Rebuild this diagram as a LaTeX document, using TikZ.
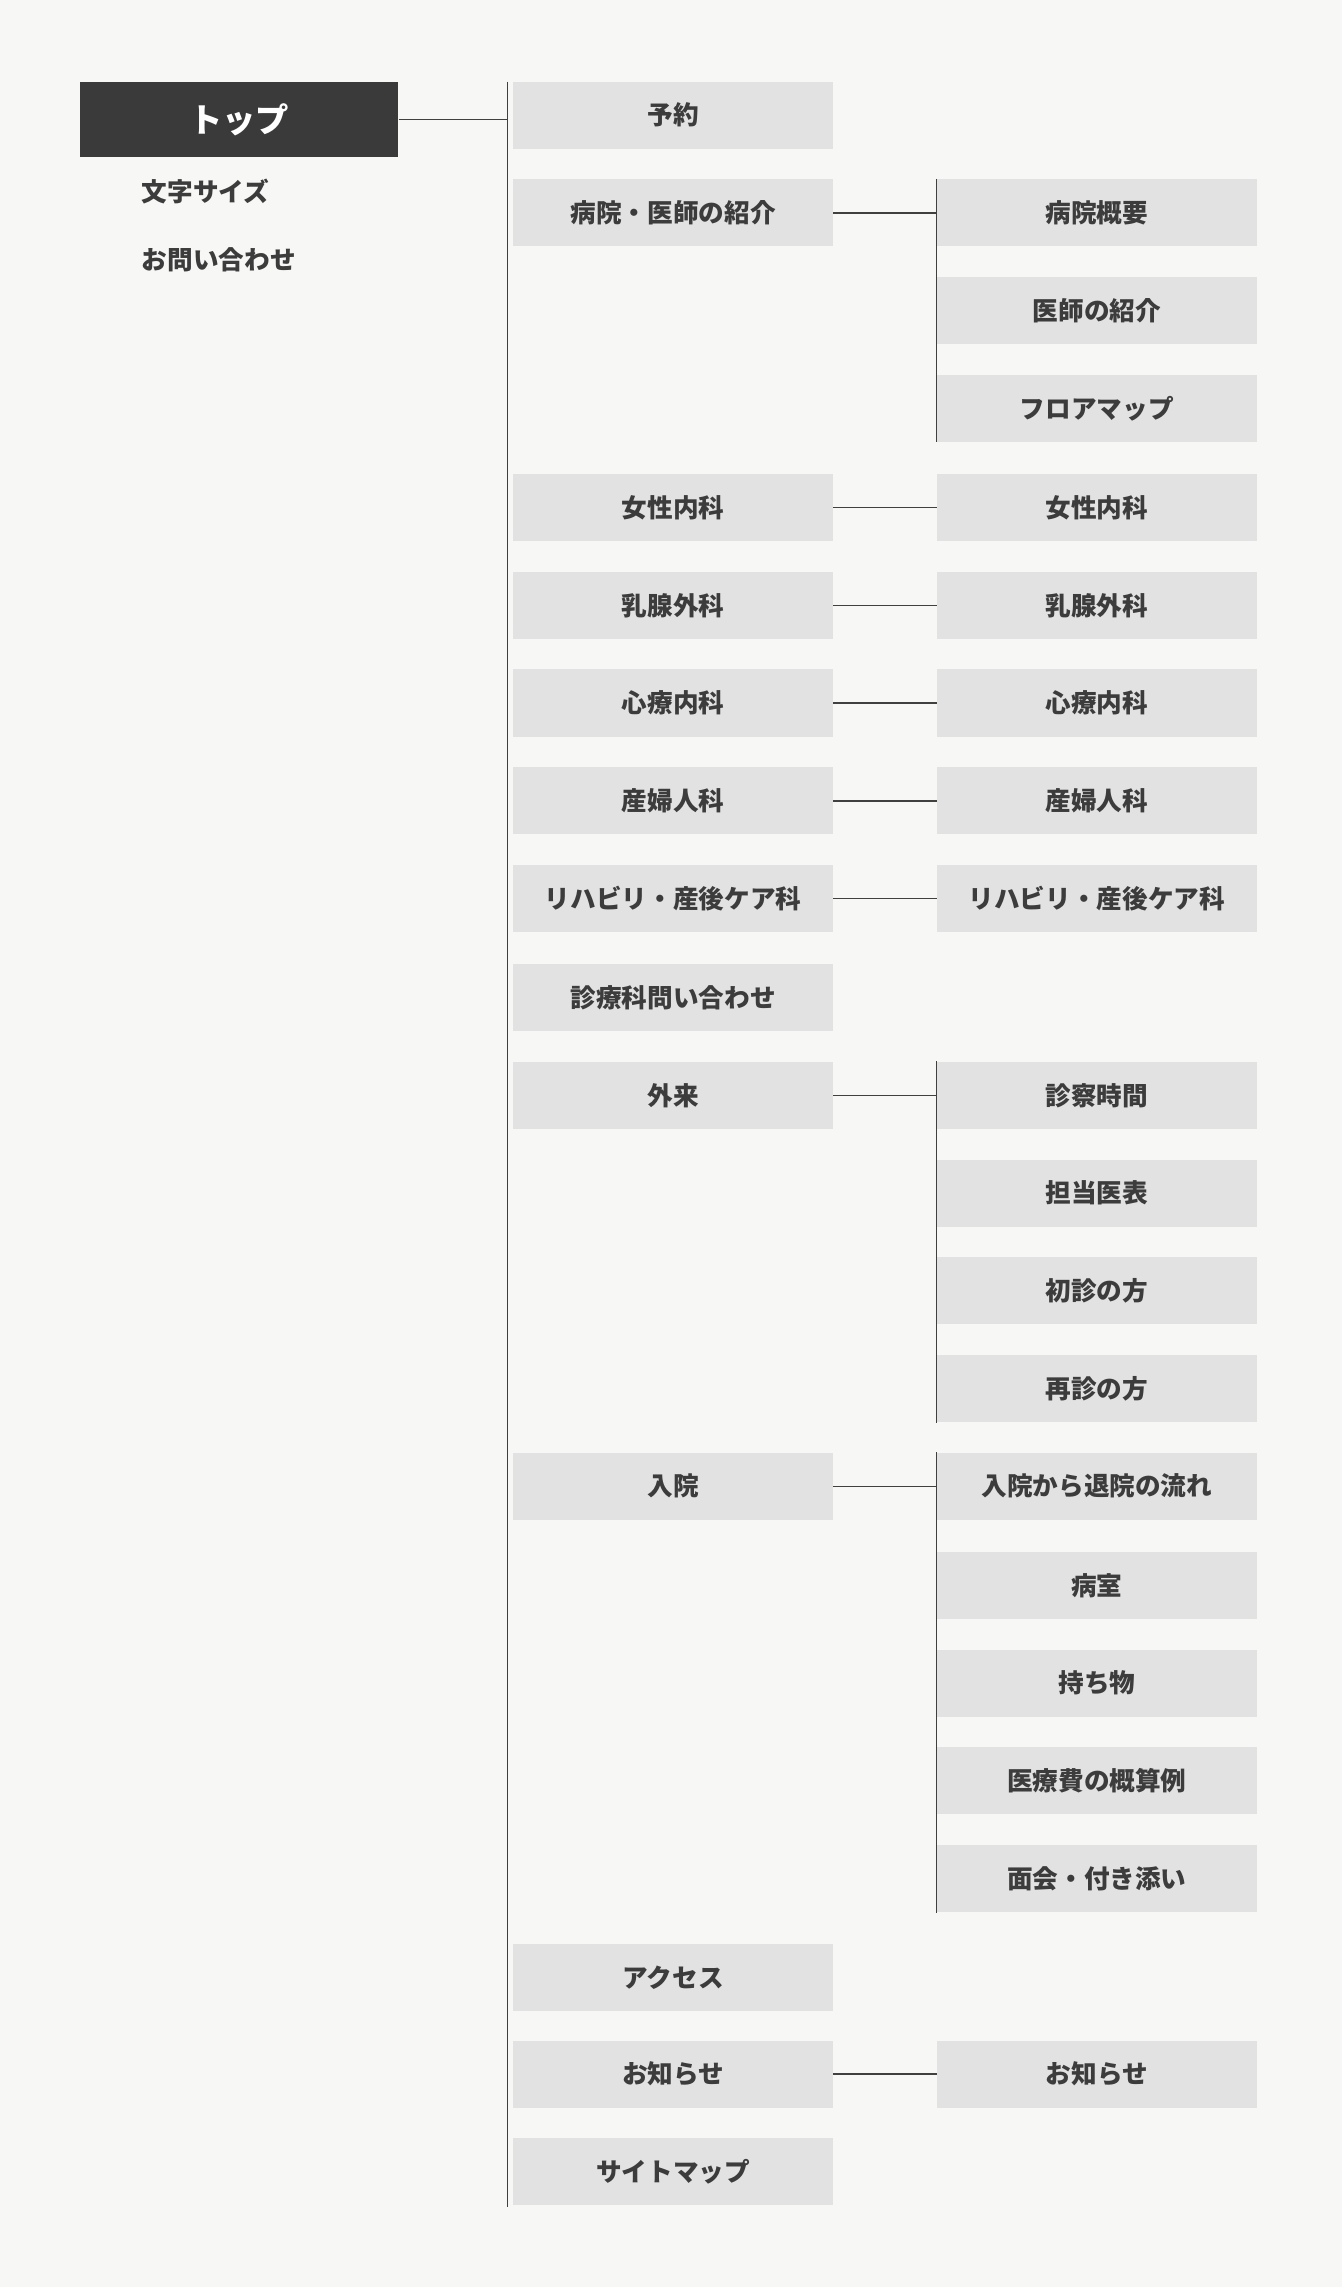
\documentclass[tikz,border=0pt]{standalone}
\usepackage{fontspec}
\setmainfont{Noto Sans CJK JP}
\definecolor{pageBg}{HTML}{F7F7F5}
\definecolor{boxGray}{HTML}{E2E2E2}
\definecolor{topDark}{HTML}{3A3A3A}
\definecolor{textDark}{HTML}{3C3C3C}
\begin{document}
\begin{tikzpicture}[x=0.02cm,y=-0.02cm,
    page/.style={inner sep=0pt,outer sep=0pt},
    pagebox/.style={fill=boxGray,minimum width=4.38cm,minimum height=0.92cm,inner sep=0pt,
      text=textDark,font=\fontsize{10}{12}\selectfont\bfseries},
    sidelink/.style={text=textDark,font=\fontsize{10}{12}\selectfont\bfseries,anchor=west,inner sep=0pt},
    link/.style={draw=black!75,line width=0.6pt}]
  % background
  \fill[pageBg] (0,0) rectangle (920,1568);
  \useasboundingbox (0,0) rectangle (920,1568);

  % top and side links
  \node[fill=topDark,text=white,minimum width=4.36cm,minimum height=1.02cm,inner sep=0pt,
    font=\fontsize{13}{15}\selectfont\bfseries] (top) at (164,82) {トップ};
  \node[sidelink] (size) at (97,131) {文字サイズ};
  \node[sidelink] (contact) at (97,178) {お問い合わせ};

  % trunk
  \coordinate (trunkTop) at (348,56);
  \coordinate (trunkBot) at (348,1513);
  \draw[link] (trunkTop) -- (trunkBot);
  \draw[link] (top.east) -- (top.east -| trunkTop);

  % first level
  \node[pagebox] (reserve) at (461.5,79) {予約};
  \node[pagebox] (about) at (461.5,146) {病院・医師の紹介};
  \node[pagebox] (women) at (461.5,348) {女性内科};
  \node[pagebox] (breast) at (461.5,415) {乳腺外科};
  \node[pagebox] (psych) at (461.5,482) {心療内科};
  \node[pagebox] (obgyn) at (461.5,549) {産婦人科};
  \node[pagebox] (rehab) at (461.5,616) {リハビリ・産後ケア科};
  \node[pagebox] (inquiry) at (461.5,684) {診療科問い合わせ};
  \node[pagebox] (outpat) at (461.5,751) {外来};
  \node[pagebox] (inpat) at (461.5,1019) {入院};
  \node[pagebox] (access) at (461.5,1356) {アクセス};
  \node[pagebox] (news) at (461.5,1422) {お知らせ};
  \node[pagebox] (sitemap) at (461.5,1489) {サイトマップ};

  % second level
  \node[pagebox] (aboutA) at (752,146) {病院概要};
  \node[pagebox] (aboutB) at (752,213) {医師の紹介};
  \node[pagebox] (aboutC) at (752,280) {フロアマップ};
  \node[pagebox] (womenA) at (752,348) {女性内科};
  \node[pagebox] (breastA) at (752,415) {乳腺外科};
  \node[pagebox] (psychA) at (752,482) {心療内科};
  \node[pagebox] (obgynA) at (752,549) {産婦人科};
  \node[pagebox] (rehabA) at (752,616) {リハビリ・産後ケア科};
  \node[pagebox] (outA) at (752,751) {診察時間};
  \node[pagebox] (outB) at (752,818) {担当医表};
  \node[pagebox] (outC) at (752,885) {初診の方};
  \node[pagebox] (outD) at (752,952) {再診の方};
  \node[pagebox] (inA) at (752,1019) {入院から退院の流れ};
  \node[pagebox] (inB) at (752,1087) {病室};
  \node[pagebox] (inC) at (752,1154) {持ち物};
  \node[pagebox] (inD) at (752,1221) {医療費の概算例};
  \node[pagebox] (inE) at (752,1288) {面会・付き添い};
  \node[pagebox] (newsA) at (752,1422) {お知らせ};

  % connectors
  \draw[link] (about.east) -- (about.east -| aboutA.west);
  \draw[link] (aboutA.north west) -- (aboutC.south west);
  \draw[link] (women.east) -- (womenA.west);
  \draw[link] (breast.east) -- (breastA.west);
  \draw[link] (psych.east) -- (psychA.west);
  \draw[link] (obgyn.east) -- (obgynA.west);
  \draw[link] (rehab.east) -- (rehabA.west);
  \draw[link] (outpat.east) -- (outpat.east -| outA.west);
  \draw[link] (outA.north west) -- (outD.south west);
  \draw[link] (inpat.east) -- (inpat.east -| inA.west);
  \draw[link] (inA.north west) -- (inE.south west);
  \draw[link] (news.east) -- (newsA.west);
\end{tikzpicture}
\end{document}
